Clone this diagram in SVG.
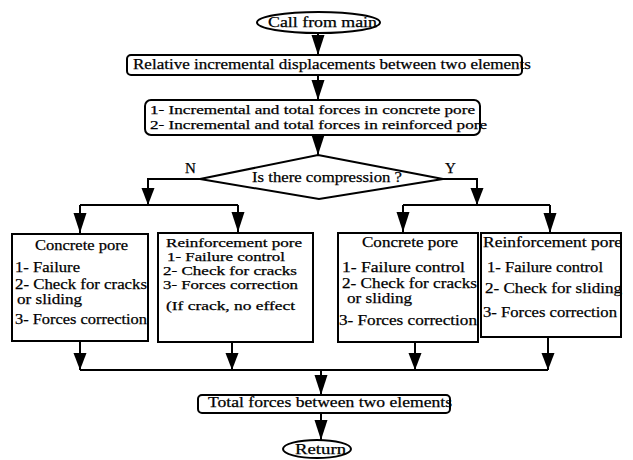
<svg xmlns="http://www.w3.org/2000/svg" width="633" height="460" viewBox="0 0 633 460">
<style>
text{font-family:"Liberation Serif","Times New Roman",serif;font-size:15px;fill:#000;stroke:#000;stroke-width:0.25}
.s{font-size:13px}
.b{fill:#fff;stroke:#000;stroke-width:2}
.c{fill:none;stroke:#000;stroke-width:2}
</style>
<defs>
<marker id="ah" markerUnits="userSpaceOnUse" markerWidth="22" markerHeight="14" refX="20" refY="6.5" orient="auto"><path d="M0,0 L20,6.5 L0,13 z" fill="#000"/></marker>
<marker id="as" markerUnits="userSpaceOnUse" markerWidth="18" markerHeight="14" refX="17" refY="6.5" orient="auto"><path d="M0,0 L17,6.5 L0,13 z" fill="#000"/></marker>
</defs>
<rect width="633" height="460" fill="#fff"/>
<g id="connectors">
<path class="c" d="M318,33 L318,55" marker-end="url(#ah)"/>
<path class="c" d="M318,75 L318,100" marker-end="url(#ah)"/>
<path class="c" d="M318,135 L318,155" marker-end="url(#ah)"/>
<path class="c" d="M200,179 L148,179 L148,205" marker-end="url(#as)"/>
<path class="c" d="M80,205 L238,205"/>
<path class="c" d="M80,205 L80,233" marker-end="url(#ah)"/>
<path class="c" d="M238,205 L238,232" marker-end="url(#ah)"/>
<path class="c" d="M443,179 L477,179 L477,205" marker-end="url(#as)"/>
<path class="c" d="M403,205 L550,205"/>
<path class="c" d="M403,205 L403,232" marker-end="url(#ah)"/>
<path class="c" d="M550,205 L550,233" marker-end="url(#ah)"/>
<path class="c" d="M80,341 L80,370" marker-end="url(#as)"/>
<path class="c" d="M232,342 L232,370" marker-end="url(#as)"/>
<path class="c" d="M415,342 L415,370" marker-end="url(#as)"/>
<path class="c" d="M548,337 L548,370" marker-end="url(#as)"/>
<path class="c" d="M80,370 L548,370"/>
<path class="c" d="M321,370 L321,395" marker-end="url(#ah)"/>
<path class="c" d="M321,413 L321,440" marker-end="url(#ah)"/>
</g>
<g id="start">
<ellipse class="b" cx="318.5" cy="22.5" rx="61.5" ry="10.5"/>
<text x="268" y="27" textLength="109" lengthAdjust="spacingAndGlyphs">Call from main</text>
</g>
<g id="disp">
<rect class="b" x="127" y="55" width="395" height="20" rx="4"/>
<text x="133" y="69" textLength="398" lengthAdjust="spacingAndGlyphs">Relative incremental displacements between two elements</text>
</g>
<g id="forces">
<rect class="b" x="145" y="100" width="335" height="35" rx="6"/>
<text class="s" x="150" y="114" textLength="325" lengthAdjust="spacingAndGlyphs">1- Incremental  and total  forces in  concrete pore</text>
<text class="s" x="150" y="129" textLength="337" lengthAdjust="spacingAndGlyphs">2- Incremental  and total  forces in  reinforced pore</text>
</g>
<g id="decision">
<polygon class="b" points="318,155 443,179 319,199 200,179"/>
<text x="252" y="182" textLength="150" lengthAdjust="spacingAndGlyphs">Is there compression ?</text>
<text x="185" y="173">N</text>
<text x="445" y="173">Y</text>
</g>
<g id="n-concrete">
<rect class="b" x="12" y="234" width="136" height="107"/>
<text x="35" y="250" textLength="93" lengthAdjust="spacingAndGlyphs">Concrete pore</text>
<text x="15" y="272" textLength="65" lengthAdjust="spacingAndGlyphs">1- Failure</text>
<text x="15" y="289" textLength="132" lengthAdjust="spacingAndGlyphs">2- Check for cracks</text>
<text x="17" y="304" textLength="65" lengthAdjust="spacingAndGlyphs">or sliding</text>
<text x="15" y="324" textLength="132" lengthAdjust="spacingAndGlyphs">3- Forces correction</text>
</g>
<g id="n-reinf">
<rect class="b" x="158" y="233" width="155" height="109"/>
<text class="s" x="166" y="247" textLength="136" lengthAdjust="spacingAndGlyphs">Reinforcement pore</text>
<text class="s" x="167" y="261" textLength="118" lengthAdjust="spacingAndGlyphs">1- Failure control</text>
<text class="s" x="163" y="275" textLength="134" lengthAdjust="spacingAndGlyphs">2- Check for cracks</text>
<text class="s" x="163" y="289" textLength="135" lengthAdjust="spacingAndGlyphs">3- Forces correction</text>
<text class="s" x="166" y="310" textLength="129" lengthAdjust="spacingAndGlyphs">(If crack, no effect</text>
</g>
<g id="y-concrete">
<rect class="b" x="338" y="233" width="140" height="109"/>
<text x="362" y="247" textLength="96" lengthAdjust="spacingAndGlyphs">Concrete pore</text>
<text x="342" y="272" textLength="123" lengthAdjust="spacingAndGlyphs">1- Failure control</text>
<text x="342" y="288" textLength="135" lengthAdjust="spacingAndGlyphs">2- Check for cracks</text>
<text x="347" y="303" textLength="65" lengthAdjust="spacingAndGlyphs">or sliding</text>
<text x="339" y="325" textLength="138" lengthAdjust="spacingAndGlyphs">3- Forces correction</text>
</g>
<g id="y-reinf">
<rect class="b" x="481" y="233" width="140" height="104"/>
<text x="483" y="247" textLength="139" lengthAdjust="spacingAndGlyphs">Reinforcement pore</text>
<text x="487" y="272" textLength="116" lengthAdjust="spacingAndGlyphs">1- Failure control</text>
<text x="485" y="293" textLength="137" lengthAdjust="spacingAndGlyphs">2- Check for sliding</text>
<text x="483" y="317" textLength="134" lengthAdjust="spacingAndGlyphs">3- Forces correction</text>
</g>
<g id="total">
<rect class="b" x="198" y="395" width="252" height="18" rx="4"/>
<text x="208" y="407" textLength="244" lengthAdjust="spacingAndGlyphs">Total forces between two elements</text>
</g>
<g id="return">
<ellipse class="b" cx="317" cy="449" rx="34" ry="9"/>
<text x="295" y="454" textLength="51" lengthAdjust="spacingAndGlyphs">Return</text>
</g>
</svg>
